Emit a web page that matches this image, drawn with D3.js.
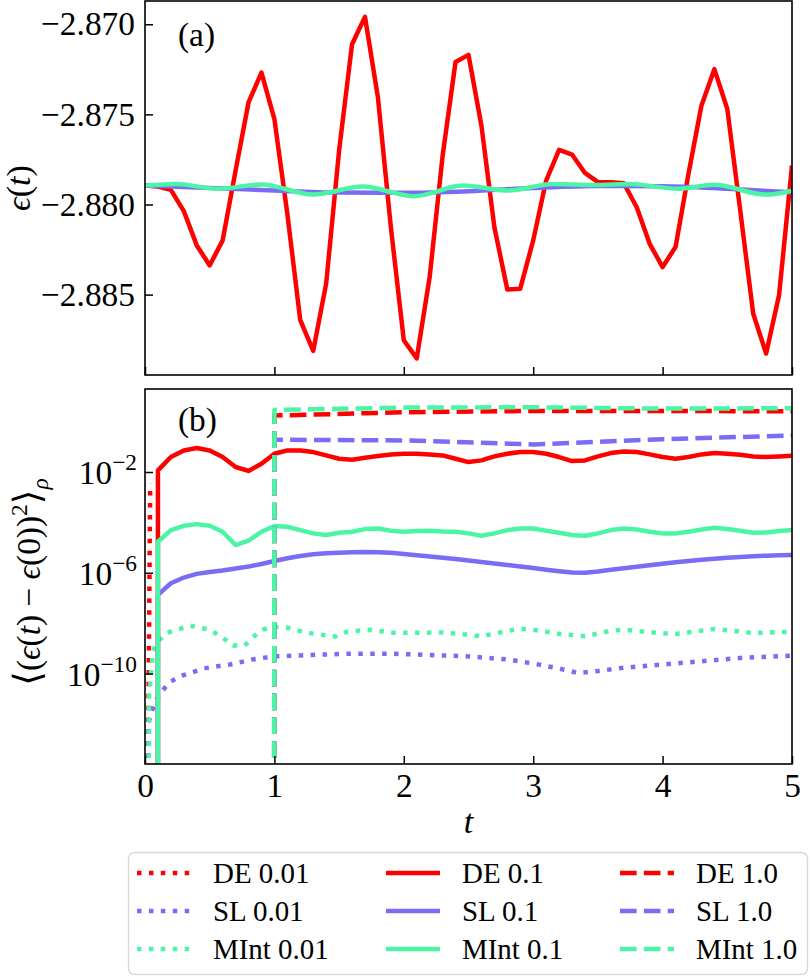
<!DOCTYPE html>
<html><head><meta charset="utf-8">
<script src="https://cdn.jsdelivr.net/npm/d3@7"></script>
<style>
body{margin:0;background:#fff}
svg{display:block}
</style>
</head><body>
<svg id="c" width="811" height="977"></svg>
<script>
// ---------------- DATA ----------------
const tStep01 = [0,0.1,0.2,0.3,0.4,0.5,0.6,0.7,0.8,0.9,1.0,1.1,1.2,1.3,1.4,1.5,1.6,1.7,1.8,1.9,2.0,2.1,2.2,2.3,2.4,2.5,2.6,2.7,2.8,2.9,3.0,3.1,3.2,3.3,3.4,3.5,3.6,3.7,3.8,3.9,4.0,4.1,4.2,4.3,4.4,4.5,4.6,4.7,4.8,4.9,5.0];
const tStep1 = [0,1,2,3,4,5];

// panel (a): energy eps(t)
const epsDE = [-2.87895,-2.87900,-2.87919,-2.88037,-2.88227,-2.88338,-2.88199,-2.87812,-2.87434,-2.87268,-2.87526,-2.88052,-2.88642,-2.88812,-2.88439,-2.87701,-2.87111,-2.86959,-2.87406,-2.88126,-2.88753,-2.88854,-2.88402,-2.87729,-2.87209,-2.87170,-2.87563,-2.88126,-2.88472,-2.88467,-2.88199,-2.87867,-2.87697,-2.87723,-2.87825,-2.87876,-2.87876,-2.87882,-2.88015,-2.88218,-2.88347,-2.88236,-2.87830,-2.87452,-2.87249,-2.87470,-2.88033,-2.88605,-2.88827,-2.88504,-2.87784];
const epsSL_t = [0,0.5,1.0,1.5,2.0,2.5,3.0,3.5,4.0,4.5,5.0];
const epsSL = [-2.87895,-2.87908,-2.87923,-2.87934,-2.87935,-2.87926,-2.87908,-2.87897,-2.87899,-2.87913,-2.87932];
const epsMInt_t = [0,0.24,0.56,0.9,1.3,1.68,2.08,2.46,2.8,3.16,3.48,3.74,4.12,4.4,4.8,5.0];
const epsMInt = [-2.87895,-2.87886,-2.87913,-2.87889,-2.87945,-2.87900,-2.87954,-2.87895,-2.87923,-2.87886,-2.87892,-2.87886,-2.87913,-2.87891,-2.87945,-2.87923];

// panel (b): <(eps(t)-eps(0))^2>
const devDE001_t = [0,0.02,0.04];
const devDE001 = [0,1e-16,3.5e-3];
const devSL001_t = [0,0.02,0.05,0.08,0.13,0.19,0.27,0.36,0.45,0.55,0.66,0.83,0.99,1.2,1.35,1.61,1.87,2.13,2.5,2.8,3.0,3.2,3.35,3.5,3.7,4.0,4.3,4.6,5.0];
const devSL001 = [0,8.1e-13,2.9e-12,7.9e-12,1.95e-11,4.5e-11,7.8e-11,1.10e-10,1.58e-10,1.91e-10,2.29e-10,3.63e-10,4.79e-10,5.25e-10,5.62e-10,6.17e-10,6.17e-10,5.62e-10,4.79e-10,3.63e-10,2.51e-10,1.58e-10,1.05e-10,1.26e-10,1.70e-10,2.29e-10,3.09e-10,4.17e-10,5.13e-10];
const devMInt001_t = [0,0.03,0.06,0.09,0.17,0.35,0.5,0.6,0.68,0.77,0.83,0.91,0.99,1.1,1.25,1.47,1.56,1.74,1.92,2.13,2.3,2.5,2.6,2.7,2.8,2.9,3.0,3.2,3.4,3.6,3.7,3.9,4.1,4.4,4.7,5.0];
const devMInt001 = [0,1.0e-11,6.76e-10,1.70e-9,4.17e-9,7.94e-9,5.50e-9,2.69e-9,1.29e-9,1.29e-9,2.69e-9,5.50e-9,7.24e-9,6.61e-9,4.17e-9,2.95e-9,4.57e-9,5.50e-9,4.17e-9,4.17e-9,4.27e-9,3.47e-9,3.02e-9,3.80e-9,5.01e-9,5.89e-9,5.50e-9,3.80e-9,3.02e-9,5.01e-9,5.50e-9,4.37e-9,3.72e-9,5.89e-9,4.07e-9,4.57e-9];
const devDE01 = [0,1.16e-2,3.92e-2,7.18e-2,8.89e-2,7.18e-2,3.92e-2,1.58e-2,1.10e-2,2.13e-2,5.31e-2,7.18e-2,7.18e-2,6.18e-2,4.56e-2,3.37e-2,3.07e-2,3.69e-2,4.29e-2,4.99e-2,5.31e-2,5.31e-2,4.99e-2,4.56e-2,3.37e-2,2.48e-2,2.89e-2,4.16e-2,5.31e-2,6.18e-2,6.18e-2,5.31e-2,3.92e-2,2.72e-2,2.89e-2,4.16e-2,5.64e-2,6.56e-2,6.18e-2,4.99e-2,3.92e-2,3.37e-2,3.92e-2,4.99e-2,5.64e-2,5.31e-2,4.84e-2,4.16e-2,3.92e-2,4.16e-2,4.42e-2];
const devSL01 = [0,1.33e-7,3.85e-7,6.46e-7,9.02e-7,1.08e-6,1.22e-6,1.47e-6,1.76e-6,2.24e-6,2.94e-6,3.75e-6,4.65e-6,5.41e-6,5.92e-6,6.28e-6,6.49e-6,6.68e-6,6.49e-6,6.17e-6,5.62e-6,5.01e-6,4.47e-6,3.98e-6,3.55e-6,3.09e-6,2.69e-6,2.34e-6,2.04e-6,1.78e-6,1.55e-6,1.32e-6,1.15e-6,1.02e-6,1.00e-6,1.12e-6,1.32e-6,1.51e-6,1.74e-6,2.00e-6,2.29e-6,2.63e-6,2.95e-6,3.31e-6,3.63e-6,3.98e-6,4.27e-6,4.57e-6,4.79e-6,5.01e-6,5.13e-6];
const devMInt01 = [0,1.71e-5,4.94e-5,7.34e-5,8.53e-5,7.34e-5,4.25e-5,1.26e-5,1.87e-5,4.25e-5,7.11e-5,6.70e-5,4.94e-5,3.66e-5,3.14e-5,3.88e-5,4.25e-5,5.42e-5,5.75e-5,4.66e-5,4.25e-5,4.52e-5,4.66e-5,4.39e-5,4.25e-5,3.66e-5,2.95e-5,3.66e-5,4.94e-5,5.75e-5,5.75e-5,4.66e-5,3.88e-5,3.14e-5,2.95e-5,3.66e-5,4.94e-5,5.75e-5,5.26e-5,4.25e-5,3.66e-5,3.66e-5,4.25e-5,5.26e-5,6.12e-5,5.42e-5,4.66e-5,3.88e-5,4.00e-5,4.52e-5,4.94e-5];
const devDE1 = [0,1.74,2.34,2.65,2.65,2.57];
const devSL1 = [0,0.190,0.179,0.124,0.201,0.281];
const devMInt1 = [0,2.91,3.60,3.71,3.28,3.39];

const topTicks = [-2.870,-2.875,-2.880,-2.885];
const botTickExps = [-2,-6,-10];
const xTicks = [0,1,2,3,4,5];
const legendLabels = ["DE 0.01","SL 0.01","MInt 0.01","DE 0.1","SL 0.1","MInt 0.1","DE 1.0","SL 1.0","MInt 1.0"];

// ---------------- STYLE ----------------
const FONT = "'Liberation Serif','Tinos','Times New Roman','Nimbus Roman','DejaVu Serif',serif";
// size the text so that its width matches the reference, whatever serif face is resolved
const ctx = document.createElement("canvas").getContext("2d");
function fitSize(str, size, targetW){
  ctx.font = `${size}px ${FONT}`;
  const w = ctx.measureText(str).width;
  return w > 0 ? size * targetW / w : size;
}
const FS = Math.min(34, fitSize("\u22122.870", 31, 94));   // tick / label size
const LFS = Math.min(30, fitSize("DE 1.0", 28, 82));       // legend size

const C = {DE:"#ff0000", SL:"#7b6cf6", MInt:"#4cf5a6"};
const LW = 4.5;
const dash = {dot: (1*LW)+","+(1.65*LW), dashed:(3.7*LW)+","+(1.6*LW), solid:null};

const svg = d3.select("#c");
const L = 145, R = 792;
const aTop = 1, aBot = 375, bTop = 389, bBot = 764;

const x = d3.scaleLinear().domain([0,5]).range([L,R]);
const yA = d3.scaleLinear().domain([-2.88946,-2.86871]).range([aBot,aTop]);
const yB = d3.scaleLog().domain([Math.pow(10,-13.59), Math.pow(10,1.294)]).range([bBot,bTop]);
// non-positive values on the log axis are sent far below the panel (as matplotlib clips them)
const yBsafe = v => v > 0 ? yB(v) : bBot + 200000;

const defs = svg.append("defs");
defs.append("clipPath").attr("id","clipA").append("rect").attr("x",L).attr("y",aTop).attr("width",R-L).attr("height",aBot-aTop);
defs.append("clipPath").attr("id","clipB").append("rect").attr("x",L).attr("y",bTop).attr("width",R-L).attr("height",bBot-bTop);

function drawLine(g, ts, vs, yFn, color, style, curve){
  const pts = ts.map((t,i)=>[t, vs[i]]);
  const line = d3.line().x(d=>x(d[0])).y(d=>yFn(d[1]));
  if (curve) line.curve(curve);
  const p = g.append("path").datum(pts).attr("d", line)
    .attr("fill","none").attr("stroke",color).attr("stroke-width",LW)
    .attr("stroke-linejoin","round").attr("stroke-linecap","butt");
  if (dash[style]) p.attr("stroke-dasharray", dash[style]);
}

// ---------------- PANEL A ----------------
const gA = svg.append("g").attr("clip-path","url(#clipA)");
drawLine(gA, tStep01, epsDE, yA, C.DE, "solid");
drawLine(gA, epsSL_t, epsSL, yA, C.SL, "solid", d3.curveMonotoneX);
drawLine(gA, epsMInt_t, epsMInt, yA, C.MInt, "solid", d3.curveMonotoneX);

// ---------------- PANEL B ----------------
const gB = svg.append("g").attr("clip-path","url(#clipB)");
drawLine(gB, devDE001_t, devDE001, yBsafe, C.DE, "dot");
drawLine(gB, devSL001_t, devSL001, yBsafe, C.SL, "dot");
drawLine(gB, devMInt001_t, devMInt001, yBsafe, C.MInt, "dot");
drawLine(gB, tStep01, devDE01, yBsafe, C.DE, "solid");
drawLine(gB, tStep01, devSL01, yBsafe, C.SL, "solid");
drawLine(gB, tStep01, devMInt01, yBsafe, C.MInt, "solid");
drawLine(gB, tStep1, devDE1, yBsafe, C.DE, "dashed");
drawLine(gB, tStep1, devSL1, yBsafe, C.SL, "dashed");
drawLine(gB, tStep1, devMInt1, yBsafe, C.MInt, "dashed");

// ---------------- AXES ----------------
const fmtTop = v => (v<0?"\u2212":"") + Math.abs(v).toFixed(3);
const axA = svg.append("g").attr("transform",`translate(${L},0)`)
  .call(d3.axisLeft(yA).tickValues(topTicks).tickSize(-8).tickPadding(10).tickFormat(fmtTop));
axA.selectAll("text").attr("font-size",FS);
const axAx = svg.append("g").attr("transform",`translate(0,${aBot})`)
  .call(d3.axisBottom(x).tickValues(xTicks).tickSize(-8).tickFormat(""));
const axBx = svg.append("g").attr("transform",`translate(0,${bBot})`)
  .call(d3.axisBottom(x).tickValues(xTicks).tickSize(-8).tickPadding(9).tickFormat(d3.format("d")));
axBx.selectAll("text").attr("font-size",FS);
const axBy = svg.append("g").attr("transform",`translate(${L},0)`)
  .call(d3.axisLeft(yB).tickValues(botTickExps.map(e=>Math.pow(10,e))).tickSize(-8).tickFormat(""));
[axA,axAx,axBx,axBy].forEach(a=>{
  a.attr("font-family",null).attr("font-size",null);
  a.select(".domain").remove();
  a.selectAll("line").attr("stroke","#000").attr("stroke-width",1.5);
});

// log tick labels with superscripts
botTickExps.forEach(e=>{
  const t = svg.append("text").attr("x",137).attr("y",yB(Math.pow(10,e))+0.36*FS)
    .attr("text-anchor","end").attr("font-size",FS);
  t.append("tspan").text("10");
  t.append("tspan").attr("dy",-0.42*FS).attr("font-size",0.7*FS).text("\u2212"+Math.abs(e));
});

// frames
[[aTop,aBot],[bTop,bBot]].forEach(([t,b])=>{
  svg.append("rect").attr("x",L).attr("y",t).attr("width",R-L).attr("height",b-t)
    .attr("fill","none").attr("stroke","#000").attr("stroke-width",1.6);
});

// panel labels
svg.append("text").attr("x",178).attr("y",46).attr("font-size",FS).text("(a)");
svg.append("text").attr("x",178).attr("y",431).attr("font-size",FS).text("(b)");

// y labels
const yl1 = svg.append("text").attr("transform",`translate(30,${(aTop+aBot)/2}) rotate(-90)`)
  .attr("text-anchor","middle").attr("font-size",FS*1.02);
yl1.append("tspan").attr("font-style","italic").text("\u03F5");
yl1.append("tspan").text("(");
yl1.append("tspan").attr("font-style","italic").text("t");
yl1.append("tspan").text(")");

const yl2 = svg.append("text").attr("transform",`translate(40,582) rotate(-90)`)
  .attr("text-anchor","middle").attr("font-size",FS);
yl2.append("tspan").attr("font-size",FS*1.12).text("\u27E8");
yl2.append("tspan").text("(");
yl2.append("tspan").attr("font-style","italic").text("\u03F5");
yl2.append("tspan").text("(");
yl2.append("tspan").attr("font-style","italic").text("t");
yl2.append("tspan").text(") \u2212 ");
yl2.append("tspan").attr("font-style","italic").text("\u03F5");
yl2.append("tspan").text("(0))");
yl2.append("tspan").attr("dy",-0.4*FS).attr("font-size",0.7*FS).text("2");
yl2.append("tspan").attr("dy",0.4*FS).attr("font-size",FS*1.12).text("\u27E9");
yl2.append("tspan").attr("dy",0.25*FS).attr("font-size",0.7*FS).attr("font-style","italic").text("\u03C1");

// x label
svg.append("text").attr("x",(L+R)/2).attr("y",833).attr("text-anchor","middle")
  .attr("font-size",FS*1.02).attr("font-style","italic").text("t");

// ---------------- LEGEND ----------------
svg.append("rect").attr("x",128.5).attr("y",852.5).attr("width",679).attr("height",122)
  .attr("rx",6).attr("fill","#fff").attr("stroke","#d9d9d9").attr("stroke-width",1.5);
const colX = [137, 386, 620];
const rowY = [873, 911, 949];
const methods = ["DE","SL","MInt"];
const styles = ["dot","solid","dashed"];
legendLabels.forEach((lab,i)=>{
  const col = Math.floor(i/3), row = i%3;
  const x0 = colX[col], y0 = rowY[row];
  const l = svg.append("line").attr("x1",x0).attr("x2",x0+54).attr("y1",y0).attr("y2",y0)
    .attr("stroke",C[methods[row]]).attr("stroke-width",LW);
  if (dash[styles[col]]) l.attr("stroke-dasharray",dash[styles[col]]);
  svg.append("text").attr("x",x0+76).attr("y",y0+0.34*LFS).attr("font-size",LFS).text(lab);
});

// force the serif face on every text element
svg.selectAll("text").style("font-family", FONT).style("fill","#000");
</script>
</body></html>
